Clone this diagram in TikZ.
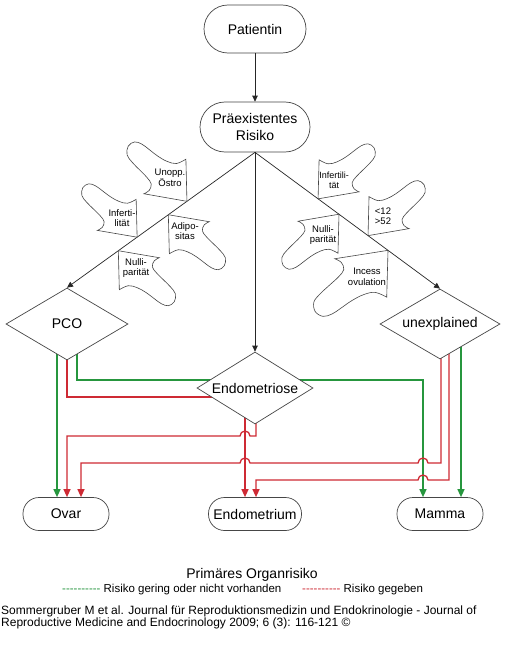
\documentclass[tikz,border=0pt]{standalone}
\usepackage{fontspec}
\setmainfont{Liberation Sans}
\usetikzlibrary{shapes.geometric,arrows.meta,calc}
\pgfdeclarelayer{paper}
\pgfdeclarelayer{wires}
\pgfsetlayers{paper,wires,main}
\definecolor{grn}{RGB}{38,150,62}
\definecolor{redtwo}{RGB}{206,42,52}
\definecolor{lnc}{RGB}{70,70,70}
\newcommand\riskarrow[3]{%
  \begin{scope}[shift={(#1)},xscale=#2,yscale=#3]
    \draw[cloudline] (0,0) -- plot[smooth,tension=0.6] coordinates {(41,7) (36,10) (34,16) (38,22) (45,29) (52,36) (57,43) (56,51) (50,55) (43,53) (36,48) (28,42) (19,37) (10,35) (1,39)} -- cycle;
  \end{scope}}
\newcommand\dashrow{-{}-{}-{}-{}-{}-{}-{}-{}-{}-}
\begin{document}
\begin{tikzpicture}[x=1pt,y=-1pt,
  every node/.style={font=\fontsize{14}{17}\selectfont},
  box/.style={draw=lnc,line width=0.7pt,fill=white,inner sep=0pt,align=center},
  dia/.style={draw=lnc,line width=0.7pt,fill=white,diamond,inner sep=0pt,aspect=1.6},
  blk/.style={draw=black!85,line width=0.7pt,-{Triangle[length=6pt,width=5.5pt]}},
  gl/.style={draw=grn,line width=1.3pt,-{Triangle[length=8pt,width=7pt]}},
  rl/.style={draw=redtwo,line width=1.3pt,-{Triangle[length=8pt,width=7pt]}},
  rn/.style={draw=redtwo,line width=1.3pt},
  cloudline/.style={draw=lnc,line width=0.6pt,fill=white},
  ctext/.style={font=\fontsize{9.5}{10.5}\selectfont,align=center,inner sep=0pt},
]
\useasboundingbox (0,0) rectangle (505,661);
\begin{pgfonlayer}{paper}
\fill[white] (0,0) rectangle (505,661);
\end{pgfonlayer}

% main nodes
\node[box,rounded corners=24pt,minimum width=102pt,minimum height=48pt] (pat) at (255,29) {Patientin};
\node[box,rounded corners=25pt,minimum width=110pt,minimum height=50pt] (prae) at (255,127) {Präexistentes\\Risiko};
\node[dia,minimum width=122pt,minimum height=72pt] (pco) at (67,324) {PCO};
\node[dia,minimum width=116pt,minimum height=72pt] (endo) at (255,388) {Endometriose};
\node[dia,minimum width=120pt,minimum height=70pt] (unex) at (440,324) {unexplained};
\node[box,rounded corners=16pt,minimum width=86pt,minimum height=33pt] (ovar) at (66,514) {Ovar};
\node[box,rounded corners=16pt,minimum width=93pt,minimum height=33pt] (endm) at (255,514) {Endometrium};
\node[box,rounded corners=16pt,minimum width=86pt,minimum height=33pt] (mam) at (440,514) {Mamma};

% black connectors
\draw[blk] (pat) -- (prae);
\draw[blk] (prae.south) -- (pco.north);
\draw[blk] (prae.south) -- (endo.north);
\draw[blk] (prae.south) -- (unex.north);

% coloured connectors behind the nodes
\begin{pgfonlayer}{wires}
\draw[gl] ($(pco.center)+(-10,0)$) -- ($(ovar.north)+(-9,0)$);
\draw[rn] (pco.center) |- ($(endo.center)+(-20,9)$);
\draw[gl] ($(pco.center)+(10,0)$) -- ++(0,56) -| ($(mam.north)+(-17,0)$);
\draw[rl] ($(endo.center)+(1,0)$) |- ($(endo.center)+(-5,48)$)
   arc[start angle=0,end angle=180,radius=5pt] -| ($(ovar.north)+(1,0)$);
\draw[rl] ($(endo.center)+(-10,0)$) -- ($(endm.north)+(-10,0)$);
\draw[rl] ($(unex.center)+(1,0)$) -- (441,463) -- (428,463)
   arc[start angle=0,end angle=180,radius=5pt] -- (250,463)
   arc[start angle=0,end angle=180,radius=5pt] -| ($(ovar.north)+(15,0)$);
\draw[rl] ($(unex.center)+(9,0)$) -- (449,480) -- (428,480)
   arc[start angle=0,end angle=180,radius=5pt] -| ($(endm.north)+(1,0)$);
\draw[gl] ($(unex.center)+(21,0)$) -- ($(mam.north)+(21,0)$);
\end{pgfonlayer}

% risk arrows
\riskarrow{$(prae.south)!0.362!(pco.north)$}{-1.05}{-1.08}
\riskarrow{$(prae.south)!0.627!(pco.north)$}{-0.97}{-0.97}
\riskarrow{$(prae.south)!0.461!(pco.north)$}{1}{1}
\riskarrow{$(prae.south)!0.727!(pco.north)$}{1}{1}
\riskarrow{$(prae.south)!0.341!(unex.north)$}{1}{-1}
\riskarrow{$(prae.south)!0.611!(unex.north)$}{1}{-1}
\riskarrow{$(prae.south)!0.454!(unex.north)$}{-1}{1}
\riskarrow{$(prae.south)!0.719!(unex.north)$}{-1.3}{1.2}

\node[ctext] (t1) at (170,178) {Unopp.\\Östro};
\node[ctext] (t2) at (122,218) {Inferti-\\lität};
\node[ctext] (t3) at (185,231) {Adipo-\\sitas};
\node[ctext] (t4) at (136,268) {Nulli-\\parität};
\node[ctext,font=\fontsize{9}{10}\selectfont] (t5) at (334,180) {Infertili-\\tät};
\node[ctext] (t6) at (383,216) {<12\\>52};
\node[ctext] (t7) at (323,235) {Nulli-\\parität};
\node[ctext] (t8) at (367,277) {Incess\\ovulation};

% legend and citation
\node[anchor=base,font=\fontsize{14}{16}\selectfont] (leg) at (252,578) {Primäres Organrisiko};
\node[anchor=base west,inner sep=0pt,font=\fontsize{11.5}{13}\selectfont] (lg1) at (62,592) {\textcolor{grn}{\dashrow} Risiko gering oder nicht vorhanden};
\node[anchor=base west,inner sep=0pt,font=\fontsize{11.5}{13}\selectfont] (lg2) at (302,592) {\textcolor{redtwo}{\dashrow} Risiko gegeben};
\node[anchor=base west,inner sep=0pt,font=\fontsize{12}{12}\selectfont] (cit1) at (1,614) {Sommergruber M et al. Journal für Reproduktionsmedizin und Endokrinologie - Journal of};
\node[anchor=base west,inner sep=0pt,font=\fontsize{12}{12}\selectfont] (cit2) at (1,626) {Reproductive Medicine and Endocrinology 2009; 6 (3): 116-121 ©};
\end{tikzpicture}
\end{document}
